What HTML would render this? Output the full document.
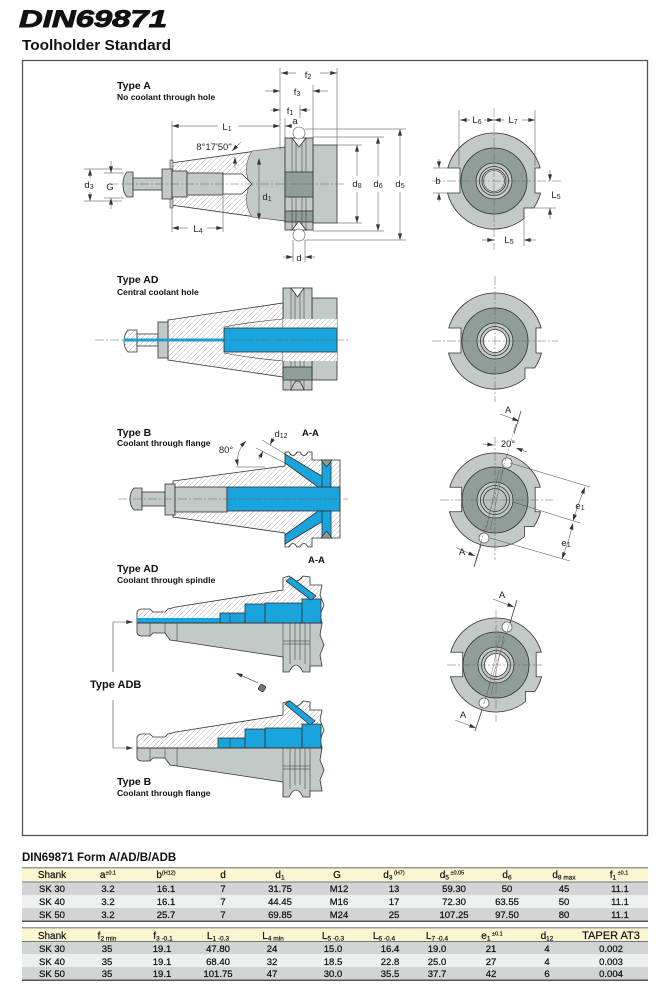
<!DOCTYPE html>
<html><head><meta charset="utf-8">
<style>
html,body{margin:0;padding:0;background:#fff;}
svg{display:block;font-family:"Liberation Sans",Arial,sans-serif;}
</style></head><body>
<svg width="668" height="993" viewBox="0 0 668 993" xmlns="http://www.w3.org/2000/svg">
<defs>
<pattern id="h" width="5" height="5" patternUnits="userSpaceOnUse">
<rect width="5" height="5" fill="#fff"/>
<path d="M-1,1 L1,-1 M0,5 L5,0 M4,6 L6,4" stroke="#a3a3a3" stroke-width="0.5"/>
</pattern>
<marker id="a" viewBox="0 0 10 6" refX="10" refY="3" markerWidth="7" markerHeight="4" orient="auto-start-reverse" markerUnits="userSpaceOnUse"><path d="M0,0 L10,3 L0,6 Z" fill="#333"/></marker>
<path id="ev" d="M-46.2,-13 A48,48 0 0 1 46.2,-13 L41,-13 L41,12 L46.5,12 A48,48 0 0 1 39.7,27 L30,27 L30,37.5 A48,48 0 0 1 -46.5,12 L-34,12 L-34,-13 Z"/>
</defs>

<!-- Title -->
<text x="19" y="27" font-size="24" font-weight="bold" font-style="italic" fill="#111" stroke="#111" stroke-width="0.9" textLength="148" lengthAdjust="spacingAndGlyphs">DIN69871</text>
<text x="22" y="50" font-size="14.5" font-weight="bold" fill="#111" textLength="149" lengthAdjust="spacingAndGlyphs">Toolholder Standard</text>

<!-- Frame -->
<rect x="22.5" y="60.5" width="625" height="775" fill="none" stroke="#555" stroke-width="1.3"/>

<!-- ============ TYPE A ============ -->
<text x="117" y="89" font-size="10.5" font-weight="bold" fill="#111">Type A</text>
<text x="117" y="100" font-size="8.5" font-weight="bold" fill="#111">No coolant through hole</text>

<g stroke="#333" stroke-width="0.8">
 <path d="M171,163 L285,147 L285,221 L171,205 Z" fill="url(#h)"/>
 <path d="M252,151 C244,164 246,176 250,184 C246,193 244,205 252,217 L285,221 L285,147 Z" fill="#c2c9c7" stroke-width="0.5"/>
 <rect x="170" y="160" width="3" height="48" fill="#c2c9c7" stroke-width="0.5"/>
 <path d="M127,172 H133 V197 H127 Q123,193 123,184.5 Q123,176 127,172 Z" fill="#c2c9c7"/>
 <rect x="133" y="178" width="29" height="12" fill="#c2c9c7"/>
 <rect x="162" y="169" width="10" height="30" fill="#c2c9c7"/>
 <rect x="172" y="171" width="15" height="26" fill="#c2c9c7"/>
 <rect x="187" y="173" width="36" height="22" fill="#c2c9c7"/>
 <path d="M223,174 H242 L252,184 L242,194 H223 Z" fill="#fff"/>
 <rect x="313" y="145" width="24" height="78" fill="#c2c9c7"/>
 <rect x="285" y="138" width="28" height="92" fill="#c2c9c7"/>
 <rect x="285" y="172" width="28" height="25" fill="#8f9e98"/>
 <rect x="285" y="211" width="28" height="11" fill="#8f9e98"/>
 <path d="M292,138 V172 M296,138 V172 M302,138 V172 M306,138 V172 M292,197 V230 M296,197 V230 M302,197 V230 M306,197 V230" stroke-width="0.5" fill="none"/>
 <path d="M292,138 L299,147 L306,138 Z" fill="#fff"/>
 <path d="M292,230 L299,221 L306,230 Z" fill="#fff"/>
 <circle cx="299" cy="133" r="6" fill="#fff" stroke="#777"/>
 <circle cx="299" cy="235" r="6" fill="#fff" stroke="#777"/>
</g>
<path d="M110,184 H345" stroke="#666" stroke-width="0.5" stroke-dasharray="9,2,2,2"/>

<!-- Type A dimensions -->
<g stroke="#444" stroke-width="0.5" fill="none">
 <path d="M280,68 V150 M313,85 V138 M337,68 V145 M300,105 V118 M285,118 V138 M172,121 V161"/>
 <path d="M305,129 H406 M313,137 H384 M337,145 H362 M337,223 H362 M313,231 H384 M305,240 H406"/>
 <path d="M293,240 V262 M305,240 V262"/>
 <path d="M172,207 V232 M223,196 V232"/>
 <path d="M84,169 H122 M84,201 H122 M104,173 H124 M104,198 H124"/>
 <path d="M296,73 H281" marker-end="url(#a)"/>
 <path d="M320,73 H337" marker-end="url(#a)"/>
 <path d="M265,91 H280" marker-end="url(#a)"/>
 <path d="M328,91 H313" marker-end="url(#a)"/>
 <path d="M270,110 H280" marker-end="url(#a)"/>
 <path d="M310,110 H300" marker-end="url(#a)"/>
 <path d="M218,126 H172" marker-end="url(#a)"/>
 <path d="M238,126 H280" marker-end="url(#a)"/>
 <path d="M292,126 H285" marker-end="url(#a)"/>
 <path d="M357,176 V145" marker-end="url(#a)"/>
 <path d="M357,192 V223" marker-end="url(#a)"/>
 <path d="M378,176 V137" marker-end="url(#a)"/>
 <path d="M378,192 V231" marker-end="url(#a)"/>
 <path d="M400,176 V129" marker-end="url(#a)"/>
 <path d="M400,192 V240" marker-end="url(#a)"/>
 <path d="M259,189 V158" marker-end="url(#a)"/>
 <path d="M259,189 V220" marker-end="url(#a)"/>
 <path d="M90,178 V169" marker-end="url(#a)"/>
 <path d="M90,192 V201" marker-end="url(#a)"/>
 <path d="M111,161 V173" marker-end="url(#a)"/>
 <path d="M111,209 V198" marker-end="url(#a)"/>
 <path d="M188,228 H172" marker-end="url(#a)"/>
 <path d="M207,228 H223" marker-end="url(#a)"/>
 <path d="M283,257 H293" marker-end="url(#a)"/>
 <path d="M315,257 H305" marker-end="url(#a)"/>
 <path d="M241,142 L232,151" marker-end="url(#a)"/>
 <path d="M235,168 V157" marker-end="url(#a)"/>
</g>
<g font-size="9.5" fill="#222" text-anchor="middle">
 <text x="308" y="78">f<tspan font-size="7" dy="1">2</tspan></text>
 <text x="297" y="95">f<tspan font-size="7" dy="1">3</tspan></text>
 <text x="290" y="114">f<tspan font-size="7" dy="1">1</tspan></text>
 <text x="295" y="124">a</text>
 <text x="227" y="130">L<tspan font-size="7" dy="1">1</tspan></text>
 <text x="214" y="150">8°17'50"</text>
 <text x="357" y="187">d<tspan font-size="7" dy="1">8</tspan></text>
 <text x="378" y="187">d<tspan font-size="7" dy="1">6</tspan></text>
 <text x="400" y="187">d<tspan font-size="7" dy="1">5</tspan></text>
 <text x="267" y="200">d<tspan font-size="7" dy="1">1</tspan></text>
 <text x="89" y="188">d<tspan font-size="7" dy="1">3</tspan></text>
 <text x="110" y="190">G</text>
 <text x="198" y="232">L<tspan font-size="7" dy="1">4</tspan></text>
 <text x="299" y="261">d</text>
</g>

<!-- End view 1 -->
<use href="#ev" transform="translate(494,181)" fill="#c2c9c7" stroke="#333" stroke-width="0.8"/>
<g stroke="#333" stroke-width="0.8">
 <circle cx="494" cy="181" r="33" fill="#8f9e98"/>
 <circle cx="494" cy="181" r="18" fill="#c2c9c7"/>
 <circle cx="494" cy="181" r="14.5" fill="#c2c9c7"/>
 <circle cx="494" cy="181" r="12" fill="#d3d8d6"/>
 <circle cx="494" cy="181" r="10.5" fill="none" stroke-width="0.6"/>
</g>
<path d="M494,108 V250 M432,181 H562" stroke="#666" stroke-width="0.5" stroke-dasharray="9,2,2,2" fill="none"/>
<g stroke="#444" stroke-width="0.5" fill="none">
 <path d="M459,110 V166 M535,110 V166 M433,168 H448 M433,193 H448 M534,208 H556 M524,212 V246"/>
 <path d="M470,120 H460" marker-end="url(#a)"/>
 <path d="M484,120 H494" marker-end="url(#a)"/>
 <path d="M504,120 H494" marker-end="url(#a)"/>
 <path d="M522,120 H535" marker-end="url(#a)"/>
 <path d="M439,159 V168" marker-end="url(#a)"/>
 <path d="M439,202 V193" marker-end="url(#a)"/>
 <path d="M550,170 V181" marker-end="url(#a)"/>
 <path d="M550,219 V208" marker-end="url(#a)"/>
 <path d="M482,240 H494" marker-end="url(#a)"/>
 <path d="M536,240 H524" marker-end="url(#a)"/>
</g>
<g font-size="9.5" fill="#222" text-anchor="middle">
 <text x="477" y="123">L<tspan font-size="7" dy="1">6</tspan></text>
 <text x="513" y="123">L<tspan font-size="7" dy="1">7</tspan></text>
 <text x="438" y="184">b</text>
 <text x="556" y="198">L<tspan font-size="7" dy="1">5</tspan></text>
 <text x="509" y="243">L<tspan font-size="7" dy="1">5</tspan></text>
</g>

<!-- ============ TYPE AD central ============ -->
<text x="117" y="283" font-size="10.5" font-weight="bold" fill="#111">Type AD</text>
<text x="117" y="295" font-size="8.5" font-weight="bold" fill="#111">Central coolant hole</text>
<g stroke="#333" stroke-width="0.8">
 <rect x="312" y="298" width="25" height="82" fill="#c2c9c7"/>
 <rect x="283" y="288" width="29" height="102" fill="#c2c9c7"/>
 <path d="M168,320 L283,303 L283,377 L168,360 Z" fill="url(#h)"/>
 <rect x="283" y="319" width="54" height="42" fill="url(#h)" stroke="none"/>
 <path d="M128,330 H137 V352 H128 Q124,348 124,341 Q124,334 128,330 Z" fill="url(#h)"/>
 <rect x="137" y="334" width="21" height="12" fill="url(#h)"/>
 <rect x="158" y="322" width="10" height="36" fill="#c2c9c7"/>
 <rect x="124" y="338.5" width="100" height="3" fill="#19a4de" stroke="none"/>
 <rect x="224" y="328" width="113" height="24" fill="#19a4de"/>
 <path d="M224,327 Q250,322 283,319 M224,353 Q250,358 283,361" fill="none" stroke-width="0.6"/>
 <path d="M291,288 V319 M295,288 V319 M300,288 V319 M304,288 V319 M291,361 V390 M295,361 V390 M300,361 V390 M304,361 V390" stroke-width="0.5" fill="none"/>
 <rect x="283" y="367" width="29" height="13" fill="#8f9e98"/>
 <path d="M291,288 L297.5,297 L304,288 Z" fill="#fff"/>
 <path d="M291,390 Q297.5,372 304,390 Z" fill="#c2c9c7"/>
</g>
<path d="M95,340 H348" stroke="#666" stroke-width="0.5" stroke-dasharray="9,2,2,2"/>

<!-- End view 2 -->
<use href="#ev" transform="translate(495,341)" fill="#c2c9c7" stroke="#333" stroke-width="0.8"/>
<g stroke="#333" stroke-width="0.8">
 <circle cx="495" cy="341" r="33" fill="#8f9e98"/>
 <circle cx="495" cy="341" r="18" fill="#c2c9c7"/>
 <circle cx="495" cy="341" r="14.5" fill="#c2c9c7"/>
 <circle cx="495" cy="341" r="11.5" fill="#fff"/>
</g>
<path d="M495,276 V402 M432,341 H558" stroke="#666" stroke-width="0.5" stroke-dasharray="9,2,2,2" fill="none"/>

<!-- ============ TYPE B ============ -->
<text x="117" y="436" font-size="10.5" font-weight="bold" fill="#111">Type B</text>
<text x="117" y="446" font-size="8.5" font-weight="bold" fill="#111">Coolant through flange</text>
<g stroke="#333" stroke-width="0.8">
 <path d="M173,481 L285,466 L285,452 L289,452 Q293,459 297,452 L300,452 Q304,459 308,452 L312,452 L312,460 L340,460 L340,538 L312,538 L312,547 L308,547 Q304,540 300,547 L297,547 Q293,540 289,547 L285,547 L285,533 L173,517 Z" fill="url(#h)"/>
 <path d="M134,488 H142 V510 H134 Q130,506 130,499 Q130,492 134,488 Z" fill="#c2c9c7"/>
 <rect x="142" y="492" width="23" height="14" fill="#c2c9c7"/>
 <rect x="165" y="484" width="10" height="31" fill="#c2c9c7"/>
 <rect x="175" y="487" width="52" height="25" fill="#c2c9c7"/>
 <rect x="227" y="487" width="113" height="24" fill="#19a4de"/>
 <path d="M285,454 L325,478 L325,487 L318,487 L285,463 Z" fill="#19a4de"/>
 <path d="M285,544 L325,520 L325,511 L318,511 L285,535 Z" fill="#19a4de"/>
 <rect x="322" y="462" width="9" height="25" fill="#19a4de"/>
 <rect x="322" y="511" width="9" height="26" fill="#19a4de"/>
 <path d="M321,460 L326.5,467 L332,460 Z" fill="#8f9e98"/>
 <path d="M321,538 L326.5,531 L332,538 Z" fill="#8f9e98"/>
</g>
<path d="M118,499 H348" stroke="#666" stroke-width="0.5" stroke-dasharray="9,2,2,2"/>
<g stroke="#444" stroke-width="0.5" fill="none">
 <path d="M262,440 L285,454 M256,448 L285,463"/>
 <path d="M274,437 L270,445" marker-end="url(#a)"/>
 <path d="M259,459 L263,451" marker-end="url(#a)"/>
 <path d="M238,466 Q235,452 246,441" marker-start="url(#a)" marker-end="url(#a)"/>
 <path d="M236,467 L265,467"/>
</g>
<g font-size="9.5" fill="#222" text-anchor="middle">
 <text x="281" y="437">d<tspan font-size="7" dy="1">12</tspan></text>
 <text x="226" y="453">80°</text>
</g>
<text x="302" y="436" font-size="9.5" font-weight="bold" fill="#111">A-A</text>
<text x="308" y="563" font-size="9.5" font-weight="bold" fill="#111">A-A</text>

<!-- End view 3 -->
<use href="#ev" transform="translate(495,500) scale(0.98)" fill="#c2c9c7" stroke="#333" stroke-width="0.8"/>
<g stroke="#333" stroke-width="0.8">
 <circle cx="495" cy="500" r="33" fill="#8f9e98"/>
 <circle cx="495" cy="500" r="18" fill="#c2c9c7"/>
 <circle cx="495" cy="500" r="14.5" fill="#c2c9c7"/>
 <circle cx="495" cy="500" r="11.5" fill="#b9c1bf"/>
 <path d="M503,470 L490,530 M499,470 L486,530" stroke="#555" stroke-width="0.4" fill="none"/>
 <circle cx="507" cy="463" r="5" fill="#fff" stroke="#666"/>
 <circle cx="484" cy="538" r="5" fill="#fff" stroke="#666"/>
</g>
<path d="M495,437 V560 M440,500 H553 M516,424 L474,566" stroke="#666" stroke-width="0.5" stroke-dasharray="9,2,2,2" fill="none"/>
<g stroke="#333" stroke-width="0.7" fill="none">
 <path d="M521,411 L514,434 M481,545 L474,567"/>
</g>
<g stroke="#444" stroke-width="0.5" fill="none">
 <path d="M500,414 L519,421" marker-end="url(#a)"/>
 <path d="M457,548 L475,556" marker-end="url(#a)"/>
 <path d="M483,444 L494,445" marker-end="url(#a)"/>
 <path d="M527,452 L516,448" marker-end="url(#a)"/>
 <path d="M510,463 L590,487 M513,502 L580,523 M490,538 L570,561"/>
 <path d="M578,505 L585,487" marker-end="url(#a)"/>
 <path d="M578,505 L573,521" marker-end="url(#a)"/>
 <path d="M569,539 L573,523" marker-end="url(#a)"/>
 <path d="M569,539 L562,559" marker-end="url(#a)"/>
</g>
<g font-size="9.5" fill="#222" text-anchor="middle">
 <text x="508" y="413">A</text>
 <text x="462" y="555">A</text>
 <text x="508" y="447">20°</text>
 <text x="580" y="509">e<tspan font-size="7" dy="1">1</tspan></text>
 <text x="566" y="546">e<tspan font-size="7" dy="1">1</tspan></text>
</g>

<!-- ============ TYPE AD spindle / ADB / B ============ -->
<text x="117" y="572" font-size="10.5" font-weight="bold" fill="#111">Type AD</text>
<text x="117" y="583" font-size="8.5" font-weight="bold" fill="#111">Coolant through spindle</text>

<g stroke="#333" stroke-width="0.8">
 <path d="M137,623 L137,612 Q138,609 142,609 L150,609 L153,612 L165,612 L168,609 L176,607 L283,590 L283,578 L289,576 Q296,586 303,576 L310,577 L310,585 L322,585 L320,595 L324,605 L320,615 L322,623 Z" fill="url(#h)"/>
 <rect x="137" y="618" width="83" height="5" fill="#19a4de" stroke="none"/>
 <rect x="220" y="613" width="25" height="10" fill="#19a4de"/>
 <rect x="245" y="604" width="20" height="19" fill="#19a4de"/>
 <rect x="265" y="603" width="37" height="20" fill="#19a4de"/>
 <rect x="302" y="599" width="19" height="24" fill="#19a4de"/>
 <path d="M286,581 L291,577 L316,596 L311,600 Z" fill="#19a4de"/>
 <path d="M230,613 V623" stroke-width="0.6"/>
 <path d="M137,623 L137,633 Q138,636 142,636 L150,636 L153,633 L165,633 L170,640 L177,641 L283,657 L283,672 L289,672 Q296,658 303,672 L310,672 L310,666 L322,666 L320,655 L324,645 L320,635 L322,623 Z" fill="#c2c9c7"/>
 <path d="M150,623 V636 M165,623 V633 M177,623 V641 M283,623 V657 M290,623 V664 M295,623 V660 M300,623 V660 M305,623 V664 M310,623 V666" stroke-width="0.5" fill="none"/>
 <path d="M283,641 H310 M283,644 H310" stroke-width="0.6"/>
 <path d="M137,623 H322" stroke-width="1"/>

 <path d="M137,748 L137,737 Q138,734 142,734 L150,734 L153,737 L165,737 L168,734 L176,732 L283,715 L283,703 L289,701 Q296,711 303,701 L310,702 L310,710 L322,710 L320,720 L324,730 L320,740 L322,748 Z" fill="url(#h)"/>
 <rect x="218" y="738" width="27" height="10" fill="#19a4de"/>
 <rect x="245" y="729" width="20" height="19" fill="#19a4de"/>
 <rect x="265" y="728" width="37" height="20" fill="#19a4de"/>
 <rect x="302" y="724" width="19" height="24" fill="#19a4de"/>
 <path d="M285,704 L290,701 L315,721 L310,725 Z" fill="#19a4de"/>
 <path d="M230,738 V748" stroke-width="0.6"/>
 <path d="M137,748 L137,758 Q138,761 142,761 L150,761 L153,758 L165,758 L170,765 L177,766 L283,782 L283,797 L289,797 Q296,783 303,797 L310,797 L310,791 L322,791 L320,780 L324,770 L320,760 L322,748 Z" fill="#c2c9c7"/>
 <path d="M150,748 V761 M165,748 V758 M177,748 V766 M283,748 V782 M290,748 V789 M295,748 V785 M300,748 V785 M305,748 V789 M310,748 V791" stroke-width="0.5" fill="none"/>
 <path d="M283,766 H310 M283,769 H310" stroke-width="0.6"/>
 <path d="M137,748 H322" stroke-width="1"/>

 <rect x="259" y="685" width="6" height="6" rx="1.5" fill="#777" transform="rotate(30 262 688)"/>
</g>
<g stroke="#444" stroke-width="0.6" fill="none">
 <path d="M113,672 V622 H133" marker-end="url(#a)"/>
 <path d="M113,700 V748 H133" marker-end="url(#a)"/>
 <path d="M258,683 L236,673" marker-end="url(#a)"/>
</g>
<text x="90" y="688" font-size="11" font-weight="bold" fill="#111">Type ADB</text>
<text x="117" y="785" font-size="10.5" font-weight="bold" fill="#111">Type B</text>
<text x="117" y="796" font-size="8.5" font-weight="bold" fill="#111">Coolant through flange</text>

<!-- End view 4 -->
<use href="#ev" transform="translate(496,665) scale(0.98)" fill="#c2c9c7" stroke="#333" stroke-width="0.8"/>
<g stroke="#333" stroke-width="0.8">
 <circle cx="496" cy="665" r="33" fill="#8f9e98"/>
 <circle cx="496" cy="665" r="18" fill="#c2c9c7"/>
 <circle cx="496" cy="665" r="14.5" fill="#c2c9c7"/>
 <circle cx="496" cy="665" r="11.5" fill="#fff"/>
 <path d="M504,635 L491,695 M500,635 L487,695" stroke="#555" stroke-width="0.4" fill="none"/>
 <circle cx="507" cy="627" r="5" fill="#fff" stroke="#666"/>
 <circle cx="484" cy="703" r="5" fill="#fff" stroke="#666"/>
</g>
<path d="M496,610 V722 M447,665 H542 M514,610 L478,722" stroke="#666" stroke-width="0.5" stroke-dasharray="9,2,2,2" fill="none"/>
<g stroke="#333" stroke-width="0.7" fill="none">
 <path d="M517,600 L510,623 M482,710 L475,731"/>
</g>
<g stroke="#444" stroke-width="0.5" fill="none">
 <path d="M493,599 L514,607" marker-end="url(#a)"/>
 <path d="M455,720 L476,728" marker-end="url(#a)"/>
</g>
<g font-size="9.5" fill="#222" text-anchor="middle">
 <text x="502" y="598">A</text>
 <text x="463" y="718">A</text>
</g>

<!-- ============ TABLES ============ -->
<text x="22" y="861" font-size="11.5" font-weight="bold" fill="#111">DIN69871 Form A/AD/B/ADB</text>

<rect x="22" y="867" width="626" height="1.5" fill="#9a9a9a"/>
<rect x="22" y="868.5" width="626" height="13.5" fill="#fcf5d2"/>
<rect x="22" y="882" width="626" height="13" fill="#d2d5d5"/>
<rect x="22" y="895" width="626" height="13" fill="#eef0ef"/>
<rect x="22" y="908" width="626" height="13" fill="#d2d5d5"/>
<rect x="22" y="881.5" width="626" height="1" fill="#777"/>
<rect x="22" y="920.5" width="626" height="1.5" fill="#555"/>

<rect x="22" y="927" width="626" height="1.5" fill="#9a9a9a"/>
<rect x="22" y="928.5" width="626" height="13" fill="#fcf5d2"/>
<rect x="22" y="941.5" width="626" height="12.5" fill="#d2d5d5"/>
<rect x="22" y="954" width="626" height="13" fill="#eef0ef"/>
<rect x="22" y="967" width="626" height="13" fill="#d2d5d5"/>
<rect x="22" y="941" width="626" height="1" fill="#777"/>
<rect x="22" y="979.5" width="626" height="1.5" fill="#555"/>

<g font-size="10" fill="#111" stroke="#111" stroke-width="0.2" text-anchor="middle">
 <text x="52" y="878">Shank</text>
 <text x="108" y="878">a<tspan font-size="5.5" dy="-3.5">±0.1</tspan></text>
 <text x="166" y="878">b<tspan font-size="5.5" dy="-3.5">(H12)</tspan></text>
 <text x="223" y="878">d</text>
 <text x="280" y="878">d<tspan font-size="6.5" dy="1.5">1</tspan></text>
 <text x="337" y="878">G</text>
 <text x="394" y="878">d<tspan font-size="6.5" dy="1.5">3</tspan><tspan font-size="5.5" dy="-5"> (H7)</tspan></text>
 <text x="452" y="878">d<tspan font-size="6.5" dy="1.5">5</tspan><tspan font-size="5.5" dy="-5"> ±0.05</tspan></text>
 <text x="507" y="878">d<tspan font-size="6.5" dy="1.5">6</tspan></text>
 <text x="564" y="878">d<tspan font-size="6.5" dy="1.5">8 max</tspan></text>
 <text x="619" y="878">f<tspan font-size="6.5" dy="1.5">1</tspan><tspan font-size="5.5" dy="-5"> ±0.1</tspan></text>
</g>
<g font-size="9.5" fill="#111" stroke="#111" stroke-width="0.25" text-anchor="middle">
 <text x="52" y="892">SK 30</text><text x="108" y="892">3.2</text><text x="166" y="892">16.1</text><text x="223" y="892">7</text><text x="280" y="892">31.75</text><text x="339" y="892">M12</text><text x="394" y="892">13</text><text x="454" y="892">59.30</text><text x="507" y="892">50</text><text x="564" y="892">45</text><text x="620" y="892">11.1</text>
 <text x="52" y="905">SK 40</text><text x="108" y="905">3.2</text><text x="166" y="905">16.1</text><text x="223" y="905">7</text><text x="280" y="905">44.45</text><text x="339" y="905">M16</text><text x="394" y="905">17</text><text x="454" y="905">72.30</text><text x="507" y="905">63.55</text><text x="564" y="905">50</text><text x="620" y="905">11.1</text>
 <text x="52" y="918">SK 50</text><text x="108" y="918">3.2</text><text x="166" y="918">25.7</text><text x="223" y="918">7</text><text x="280" y="918">69.85</text><text x="339" y="918">M24</text><text x="394" y="918">25</text><text x="454" y="918">107.25</text><text x="507" y="918">97.50</text><text x="564" y="918">80</text><text x="620" y="918">11.1</text>
</g>

<g font-size="10" fill="#111" stroke="#111" stroke-width="0.2" text-anchor="middle">
 <text x="52" y="939">Shank</text>
 <text x="107" y="939">f<tspan font-size="6.5" dy="1.5">2 min</tspan></text>
 <text x="163" y="939">f<tspan font-size="6.5" dy="1.5">3 -0.1</tspan></text>
 <text x="218" y="939">L<tspan font-size="6.5" dy="1.5">1 -0.3</tspan></text>
 <text x="273" y="939">L<tspan font-size="6.5" dy="1.5">4 min</tspan></text>
 <text x="333" y="939">L<tspan font-size="6.5" dy="1.5">5 -0.3</tspan></text>
 <text x="384" y="939">L<tspan font-size="6.5" dy="1.5">6 -0.4</tspan></text>
 <text x="437" y="939">L<tspan font-size="6.5" dy="1.5">7 -0.4</tspan></text>
 <text x="492" y="939">e<tspan font-size="6.5" dy="1.5">1</tspan><tspan font-size="5.5" dy="-5"> ±0.1</tspan></text>
 <text x="547" y="939">d<tspan font-size="6.5" dy="1.5">12</tspan></text>
 <text x="611" y="939" font-size="11">TAPER AT3</text>
</g>
<g font-size="9.5" fill="#111" stroke="#111" stroke-width="0.25" text-anchor="middle">
 <text x="52" y="952">SK 30</text><text x="107" y="952">35</text><text x="162" y="952">19.1</text><text x="218" y="952">47.80</text><text x="272" y="952">24</text><text x="333" y="952">15.0</text><text x="390" y="952">16.4</text><text x="437" y="952">19.0</text><text x="491" y="952">21</text><text x="547" y="952">4</text><text x="611" y="952">0.002</text>
 <text x="52" y="965">SK 40</text><text x="107" y="965">35</text><text x="162" y="965">19.1</text><text x="218" y="965">68.40</text><text x="272" y="965">32</text><text x="333" y="965">18.5</text><text x="390" y="965">22.8</text><text x="437" y="965">25.0</text><text x="491" y="965">27</text><text x="547" y="965">4</text><text x="611" y="965">0.003</text>
 <text x="52" y="977">SK 50</text><text x="107" y="977">35</text><text x="162" y="977">19.1</text><text x="218" y="977">101.75</text><text x="272" y="977">47</text><text x="333" y="977">30.0</text><text x="390" y="977">35.5</text><text x="437" y="977">37.7</text><text x="491" y="977">42</text><text x="547" y="977">6</text><text x="611" y="977">0.004</text>
</g>
</svg>
</body></html>
